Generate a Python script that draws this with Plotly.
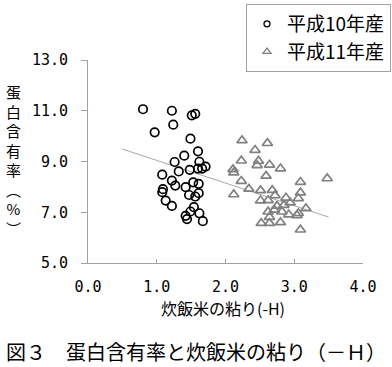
import plotly.graph_objects as go

# 平成10年産 (circles)
h10_x = [0.80, 1.22, 1.51, 1.56, 1.24, 0.97, 1.49, 1.60, 1.40, 1.26, 1.62, 1.32,
         1.48, 1.60, 1.66, 1.71, 1.08, 1.22, 1.27, 1.53, 1.61, 1.42, 1.09, 1.08,
         1.47, 1.56, 1.61, 1.13, 1.22, 1.54, 1.49, 1.62, 1.42, 1.44, 1.67]
h10_y = [11.06, 11.00, 10.82, 10.88, 10.45, 10.15, 9.90, 9.40, 9.23, 8.98, 8.99, 8.61,
         8.67, 8.72, 8.72, 8.80, 8.48, 8.25, 8.05, 8.18, 8.12, 7.99, 7.91, 7.79,
         7.68, 7.62, 7.75, 7.46, 7.25, 7.20, 7.03, 6.96, 6.86, 6.73, 6.65]

# 平成11年産 (triangles)
h11_x = [2.24, 2.61, 2.43, 2.23, 2.48, 2.46, 2.64, 2.80, 2.11, 2.12, 2.59, 2.23, 3.09,
         3.48, 2.34, 2.51, 2.68, 2.12, 3.09, 2.72, 2.88, 3.06, 2.51, 2.62, 2.94, 2.75,
         2.85, 3.17, 2.82, 2.62, 2.71, 2.92, 3.06, 3.04, 2.64, 2.52, 2.64, 2.80, 3.09]
h11_y = [9.83, 9.72, 9.45, 9.03, 9.02, 8.85, 8.87, 8.72, 8.69, 8.56, 8.43, 8.23, 8.19,
         8.33, 7.92, 7.86, 7.87, 7.70, 7.77, 7.66, 7.57, 7.55, 7.46, 7.47, 7.38, 7.25,
         7.28, 7.15, 7.02, 7.02, 7.09, 6.91, 6.96, 6.88, 6.81, 6.57, 6.57, 6.60, 6.31]

# trend line end points
trend_x = [0.50, 3.50]
trend_y = [9.49, 6.81]

x_ticks = [0, 1, 2, 3, 4]
x_tick_labels = ["0.0", "1.0", "2.0", "3.0", "4.0"]
y_ticks = [5, 7, 9, 11, 13]
y_tick_labels = ["5.0", "7.0", "9.0", "11.0", "13.0"]

series_names = ["平成10年産", "平成11年産"]
x_title = "炊飯米の粘り(-H)"
y_title = "蛋<br>白<br>含<br>有<br>率<br>︵<br>%<br>︶"
caption = "図３　蛋白含有率と炊飯米の粘り（－Ｈ）"

CJK = "Noto Sans CJK JP"
MONO = "DejaVu Sans Mono"
AXIS_COLOR = "#a0a0a0"

fig = go.Figure()

fig.add_trace(go.Scatter(
    x=trend_x, y=trend_y, mode="lines",
    line=dict(color="#a8a8a8", width=1), showlegend=False, hoverinfo="skip"))

fig.add_trace(go.Scatter(
    x=h10_x, y=h10_y, mode="markers", name=series_names[0], showlegend=False,
    marker=dict(symbol="circle-open", size=8.5, color="black", line=dict(width=1.7, color="black"))))

fig.add_trace(go.Scatter(
    x=h11_x, y=h11_y, mode="markers", name=series_names[1], showlegend=False,
    marker=dict(symbol="triangle-up-open", size=9, color="#808080", line=dict(width=1.7, color="#808080"))))

# legend-only entries with smaller symbols
fig.add_trace(go.Scatter(
    x=[None], y=[None], mode="markers", name=series_names[0],
    marker=dict(symbol="circle-open", size=6, color="black", line=dict(width=1.3, color="black"))))
fig.add_trace(go.Scatter(
    x=[None], y=[None], mode="markers", name=series_names[1],
    marker=dict(symbol="triangle-up-open", size=7, color="#808080", line=dict(width=1.3, color="#808080"))))

fig.update_layout(
    width=392, height=367,
    margin=dict(l=88, r=29, t=60, b=104, autoexpand=False),
    paper_bgcolor="white", plot_bgcolor="white",
    font=dict(family=CJK, color="black"),
    showlegend=True,
    legend=dict(
        x=(246 - 88) / 275, y=1 + (60 - 4) / 203, xanchor="left", yanchor="top",
        bordercolor=AXIS_COLOR, borderwidth=1, bgcolor="white",
        font=dict(family=CJK, size=19, color="black"),
        tracegroupgap=0,
    ),
    xaxis=dict(
        range=[0, 4], tickvals=x_ticks, ticktext=x_tick_labels, automargin=False,
        showgrid=False, zeroline=False, showline=True, linecolor=AXIS_COLOR, linewidth=1,
        ticks="inside", ticklen=4, tickcolor=AXIS_COLOR, tickwidth=1,
        tickfont=dict(family=MONO, size=15, color="black"),
        ticklabelstandoff=10,
    ),
    yaxis=dict(
        range=[5, 13], tickvals=y_ticks, ticktext=y_tick_labels, automargin=False,
        showgrid=False, zeroline=False, showline=True, linecolor=AXIS_COLOR, linewidth=1,
        ticks="outside", ticklen=6, tickcolor=AXIS_COLOR, tickwidth=1,
        tickfont=dict(family=MONO, size=15, color="black"),
        ticklabelstandoff=10,
    ),
    annotations=[
        dict(text=y_title, xref="paper", yref="paper", x=(13 - 88) / 275, y=(263 - 160) / 203,
             xanchor="center", yanchor="middle", showarrow=False, align="center",
             font=dict(family=CJK, size=15, color="black")),
        dict(text=x_title, xref="paper", yref="paper", x=(222.5 - 88) / 275, y=(263 - 308) / 203,
             xanchor="center", yanchor="middle", showarrow=False,
             font=dict(family=CJK, size=16, color="black")),
        dict(text=caption, xref="paper", yref="paper", x=(196 - 88) / 275, y=(263 - 351) / 203,
             xanchor="center", yanchor="middle", showarrow=False,
             font=dict(family=CJK, size=20, color="black")),
    ],
)

fig.write_html("out.html", config={"displayModeBar": False},
               post_script="document.body.style.margin='0';")
